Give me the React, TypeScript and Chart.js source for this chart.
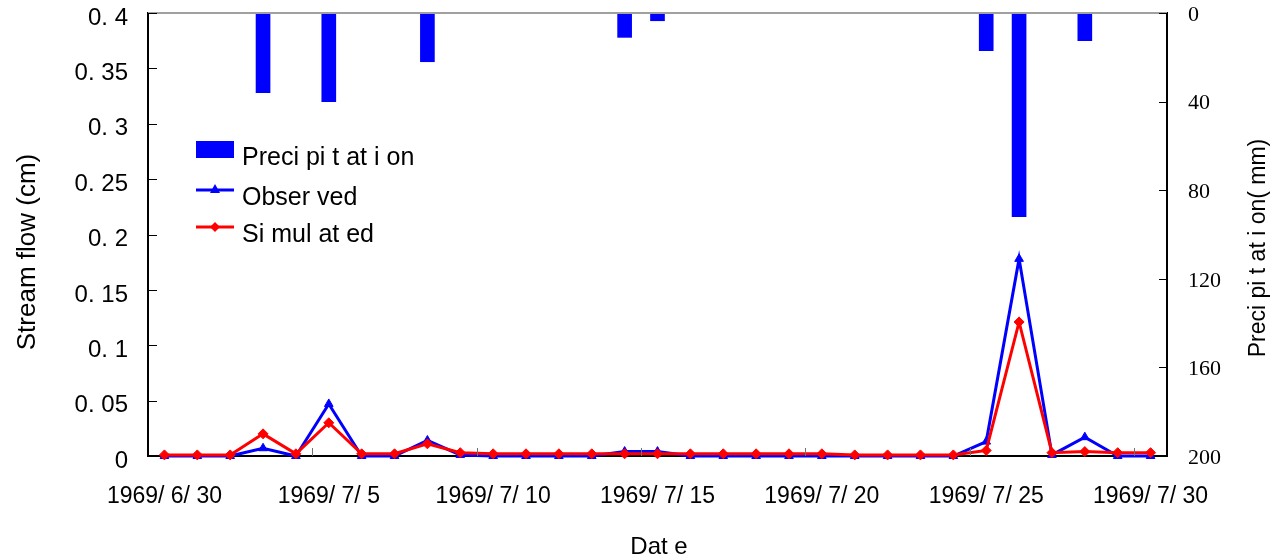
import React, { useEffect, useRef } from "react";
import { Chart, registerables } from "chart.js";

Chart.register(...registerables);

const dates: string[] = [
  "1969/ 6/ 30", "1969/ 7/ 1", "1969/ 7/ 2", "1969/ 7/ 3", "1969/ 7/ 4",
  "1969/ 7/ 5", "1969/ 7/ 6", "1969/ 7/ 7", "1969/ 7/ 8", "1969/ 7/ 9",
  "1969/ 7/ 10", "1969/ 7/ 11", "1969/ 7/ 12", "1969/ 7/ 13", "1969/ 7/ 14",
  "1969/ 7/ 15", "1969/ 7/ 16", "1969/ 7/ 17", "1969/ 7/ 18", "1969/ 7/ 19",
  "1969/ 7/ 20", "1969/ 7/ 21", "1969/ 7/ 22", "1969/ 7/ 23", "1969/ 7/ 24",
  "1969/ 7/ 25", "1969/ 7/ 26", "1969/ 7/ 27", "1969/ 7/ 28", "1969/ 7/ 29",
  "1969/ 7/ 30",
];

const precipitation: number[] = [
  0, 0, 0, 36, 0, 40, 0, 0, 22, 0,
  0, 0, 0, 0, 11, 3.5, 0, 0, 0, 0,
  0, 0, 0, 0, 0, 17, 92, 0, 12.5, 0,
  0,
];

const observed: number[] = [
  0, 0, 0, 0.007, 0, 0.047, 0, 0, 0.014, 0.001,
  0, 0, 0, 0, 0.004, 0.004, 0, 0, 0, 0,
  0, 0, 0, 0, 0, 0.013, 0.178, 0.001, 0.017, 0,
  0,
];

const simulated: number[] = [
  0.001, 0.001, 0.001, 0.02, 0.002, 0.03, 0.002, 0.002, 0.011, 0.003,
  0.002, 0.002, 0.002, 0.002, 0.002, 0.002, 0.002, 0.002, 0.002, 0.002,
  0.002, 0.001, 0.001, 0.001, 0.001, 0.005, 0.121, 0.003, 0.004, 0.003,
  0.003,
];

const flowTicks: number[] = [0, 0.05, 0.1, 0.15, 0.2, 0.25, 0.3, 0.35, 0.4];
const precipTicks: number[] = [0, 40, 80, 120, 160, 200];
const legendLabels: string[] = ["Preci pi t at i on", "Obser ved", "Si mul at ed"];
const axisTitles: string[] = ["Stream flow (cm)", "Preci pi t at i on( mm)", "Dat e"];

const SANS = "'Liberation Sans', Arial, sans-serif";
const SERIF = "'Liberation Serif', 'Times New Roman', serif";
const BLUE = "#0000FF";
const RED = "#FF0000";

const decorPlugin = {
  id: "decor",
  afterDraw(chart: any) {
    const ctx = chart.ctx;
    const { left, right, top, bottom } = chart.chartArea;
    const x = chart.scales.x;
    const y = chart.scales.y;
    const y2 = chart.scales.y2;
    ctx.save();
    // top border (grey)
    ctx.strokeStyle = "#A0A0A0";
    ctx.lineWidth = 2;
    ctx.beginPath();
    ctx.moveTo(left, top);
    ctx.lineTo(right, top);
    ctx.stroke();
    // inward ticks on y axes
    ctx.strokeStyle = "#000000";
    ctx.lineWidth = 1;
    flowTicks.forEach((v) => {
      const py = Math.round(y.getPixelForValue(v)) + 0.5;
      ctx.beginPath();
      ctx.moveTo(left, py);
      ctx.lineTo(left + 9, py);
      ctx.stroke();
    });
    precipTicks.forEach((v) => {
      const py = Math.round(y2.getPixelForValue(v)) + 0.5;
      ctx.beginPath();
      ctx.moveTo(right, py);
      ctx.lineTo(right - 8, py);
      ctx.stroke();
    });
    // inward ticks on x axis at category boundaries every 5 days
    ctx.strokeStyle = "#707070";
    for (let i = 5; i < dates.length; i += 5) {
      const px = Math.round((x.getPixelForValue(i - 1) + x.getPixelForValue(i)) / 2) + 0.5;
      ctx.beginPath();
      ctx.moveTo(px, bottom);
      ctx.lineTo(px, bottom - 8);
      ctx.stroke();
    }
    // axis titles
    ctx.fillStyle = "#000000";
    ctx.textAlign = "center";
    ctx.textBaseline = "middle";
    ctx.font = "26px " + SANS;
    ctx.save();
    ctx.translate(28, 252);
    ctx.rotate(-Math.PI / 2);
    ctx.fillText(axisTitles[0], 0, 0);
    ctx.restore();
    ctx.font = "23px " + SANS;
    ctx.save();
    ctx.translate(1259, 248);
    ctx.rotate(-Math.PI / 2);
    ctx.fillText(axisTitles[1], 0, 0);
    ctx.restore();
    ctx.font = "24px " + SANS;
    ctx.fillText(axisTitles[2], 659, 547);

    // legend
    const lx = 196;
    const lw = 38;
    const tx = 242;
    ctx.font = "25px " + SANS;
    ctx.textBaseline = "alphabetic";
    ctx.textAlign = "left";
    ctx.fillStyle = BLUE;
    ctx.fillRect(lx, 141, lw, 17);
    ctx.fillStyle = "#000000";
    ctx.fillText(legendLabels[0], tx, 165);
    ctx.strokeStyle = BLUE;
    ctx.lineWidth = 3;
    ctx.beginPath();
    ctx.moveTo(lx, 190);
    ctx.lineTo(lx + lw, 190);
    ctx.stroke();
    ctx.fillStyle = BLUE;
    ctx.beginPath();
    ctx.moveTo(lx + lw / 2, 184);
    ctx.lineTo(lx + lw / 2 + 5, 193);
    ctx.lineTo(lx + lw / 2 - 5, 193);
    ctx.closePath();
    ctx.fill();
    ctx.fillStyle = "#000000";
    ctx.fillText(legendLabels[1], tx, 205);
    ctx.strokeStyle = RED;
    ctx.beginPath();
    ctx.moveTo(lx, 227);
    ctx.lineTo(lx + lw, 227);
    ctx.stroke();
    ctx.fillStyle = RED;
    ctx.beginPath();
    ctx.moveTo(lx + lw / 2, 222);
    ctx.lineTo(lx + lw / 2 + 5, 227);
    ctx.lineTo(lx + lw / 2, 232);
    ctx.lineTo(lx + lw / 2 - 5, 227);
    ctx.closePath();
    ctx.fill();
    ctx.fillStyle = "#000000";
    ctx.fillText(legendLabels[2], tx, 242);
    ctx.restore();
  },
};

export default function App() {
  const ref = useRef<HTMLCanvasElement | null>(null);

  useEffect(() => {
    document.body.style.margin = "0";
    const canvas = ref.current;
    if (!canvas) return;
    const chart = new Chart(canvas, {
      type: "bar",
      data: {
        labels: dates,
        datasets: [
          {
            type: "line",
            label: "Observed",
            data: observed,
            yAxisID: "y",
            borderColor: BLUE,
            backgroundColor: BLUE,
            borderWidth: 3,
            pointStyle: "triangle",
            pointRadius: 5,
            pointBorderWidth: 1,
            tension: 0,
            clip: false,
            order: 1,
          } as any,
          {
            type: "line",
            label: "Simulated",
            data: simulated,
            yAxisID: "y",
            borderColor: RED,
            backgroundColor: RED,
            borderWidth: 3,
            pointStyle: "rectRot",
            pointRadius: 5,
            pointBorderWidth: 1,
            tension: 0,
            clip: false,
            order: 0,
          } as any,
          {
            type: "bar",
            label: "Precipitation",
            data: precipitation,
            yAxisID: "y2",
            backgroundColor: BLUE,
            borderWidth: 0,
            barThickness: 14,
            order: 2,
          } as any,
        ],
      },
      options: {
        responsive: false,
        animation: false,
        layout: { padding: { top: 13, left: 0, right: 0, bottom: 0 } },
        plugins: {
          legend: { display: false },
          tooltip: { enabled: false },
        },
        scales: {
          x: {
            type: "category",
            offset: true,
            grid: { display: true, drawOnChartArea: false, drawTicks: false, offset: true, color: "rgba(0,0,0,0)" },
            border: { display: true, color: "#000000", width: 2 },
            ticks: {
              autoSkip: false,
              maxRotation: 0,
              minRotation: 0,
              padding: 27,
              color: "#000000",
              font: { family: SANS, size: 23 },
              callback: (_v: any, i: number) => (i % 5 === 0 ? dates[i] : ""),
            },
            afterFit: (s: any) => {
              s.height = 103;
              s.paddingLeft = 0;
              s.paddingRight = 0;
            },
          },
          y: {
            type: "linear",
            position: "left",
            min: 0,
            max: 0.4,
            grid: { display: true, drawOnChartArea: false, drawTicks: false, color: "rgba(0,0,0,0)" },
            border: { display: true, color: "#000000", width: 2 },
            afterBuildTicks: (s: any) => {
              s.ticks = flowTicks.map((v) => ({ value: v }));
            },
            ticks: {
              padding: 20,
              labelOffset: 5,
              color: "#000000",
              font: { family: SANS, size: 24 },
              callback: (v: any) => {
                const n = Number(Number(v).toFixed(2));
                return n === 0 ? "0" : String(n).replace(".", ". ");
              },
            },
            afterFit: (s: any) => {
              s.width = 148;
              s.paddingTop = 0;
              s.paddingBottom = 0;
            },
          },
          y2: {
            type: "linear",
            position: "right",
            reverse: true,
            min: 0,
            max: 200,
            grid: { display: true, drawOnChartArea: false, drawTicks: false, color: "rgba(0,0,0,0)" },
            border: { display: true, color: "#000000", width: 2 },
            afterBuildTicks: (s: any) => {
              s.ticks = precipTicks.map((v) => ({ value: v }));
            },
            ticks: {
              padding: 21,
              labelOffset: 2,
              color: "#000000",
              font: { family: SERIF, size: 22 },
            },
            afterFit: (s: any) => {
              s.width = 113;
              s.paddingTop = 0;
              s.paddingBottom = 0;
            },
          },
        },
      },
      plugins: [decorPlugin],
    });
    return () => chart.destroy();
  }, []);

  return (
    <div style={{ position: "absolute", left: 0, top: 0, width: 1280, height: 559, background: "#FFFFFF" }}>
      <canvas ref={ref} width={1280} height={559} />
    </div>
  );
}
